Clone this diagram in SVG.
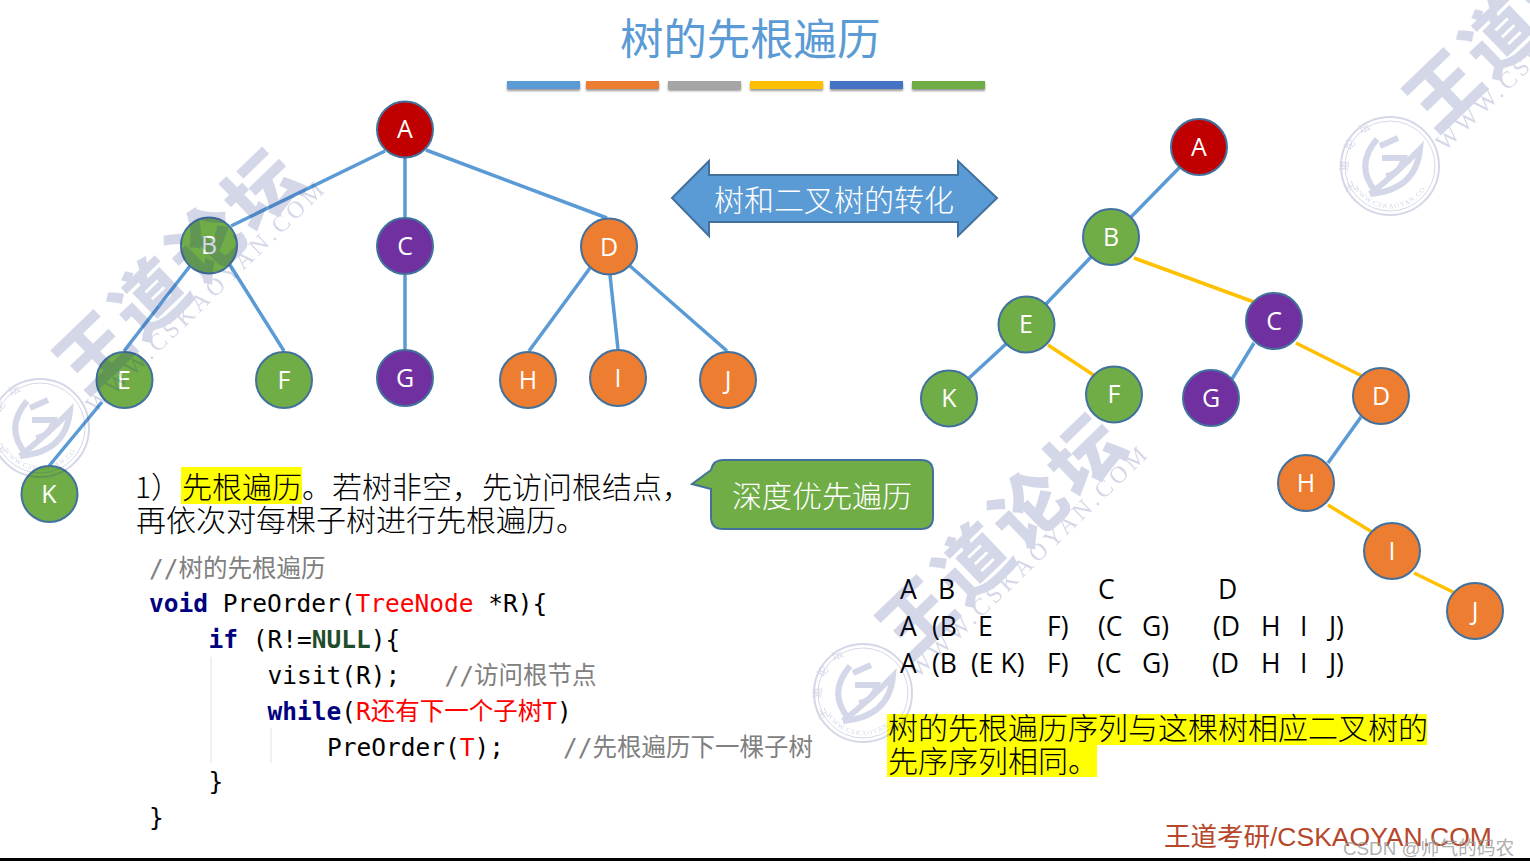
<svg xmlns="http://www.w3.org/2000/svg" width="1530" height="867" viewBox="0 0 1530 867">
<style>
.cjk{font-family:"Noto Sans CJK SC","Liberation Sans",sans-serif;font-weight:300}
.t30{font-size:30px;fill:#000}
.w30{font-size:30px;fill:#fff}
.n circle{stroke:#41719c;stroke-width:2}
.n text{font-family:"Open Sans","Noto Sans",sans-serif;font-size:25px;fill:#fff;text-anchor:middle}
.g circle{fill:#70ad47}.o circle{fill:#ed7d31}.p circle{fill:#7030a0}.r circle{fill:#c00000}
.bl{stroke:#5b9bd5;stroke-width:3.5;fill:none}
.go{stroke:#ffc000;stroke-width:3.5;fill:none}
.code{font-family:"DejaVu Sans Mono","Noto Sans CJK SC",monospace;font-size:24.5px;fill:#000;white-space:pre}
.kw{fill:#000080;font-weight:bold}.nu{fill:#1f4d2b;font-weight:bold}.re{fill:#f00}.cm{fill:#808080}
.sq{font-family:"Open Sans","Noto Sans",sans-serif;font-size:26.5px;fill:#000}
.wm{fill:#2c3a8c;stroke:none}
.wl{fill:none;stroke:#2c3a8c}
.wc{font-family:"Noto Sans CJK SC",sans-serif;font-weight:900;font-size:73px;letter-spacing:5px}
.ww{font-family:"Liberation Serif",serif;font-size:24px;letter-spacing:3.8px}
.st{font-family:"Liberation Serif",serif;font-size:7px;letter-spacing:1px}
.sc{font-family:"Noto Sans CJK SC",sans-serif;font-size:11px;letter-spacing:9px}
</style>
<defs>
<path id="sealTop" d="M-34,24A41,41 0 0 1 34,-24"/>
<path id="sealBot" d="M-36,22A42,42 0 0 0 36,22"/>
<filter id="sh" x="-5%" y="-50%" width="110%" height="220%"><feGaussianBlur stdDeviation="1"/></filter>
</defs>
<rect width="1530" height="867" fill="#fff"/>

<g id="title"><text x="620" y="55" font-family="'Noto Sans CJK SC',sans-serif" font-size="43.4" fill="#5b9bd5">树的先根遍历</text></g>
<g id="bars">
<rect x="507" y="83" width="73" height="8" fill="#999" filter="url(#sh)"/><rect x="586" y="83" width="73" height="8" fill="#999" filter="url(#sh)"/><rect x="668" y="83" width="73" height="8" fill="#999" filter="url(#sh)"/><rect x="750" y="83" width="73" height="8" fill="#999" filter="url(#sh)"/><rect x="830" y="83" width="73" height="8" fill="#999" filter="url(#sh)"/><rect x="912" y="83" width="73" height="8" fill="#999" filter="url(#sh)"/>
<rect x="507" y="81" width="73" height="8" fill="#5b9bd5"/><rect x="586" y="81" width="73" height="8" fill="#ed7d31"/><rect x="668" y="81" width="73" height="8" fill="#a5a5a5"/><rect x="750" y="81" width="73" height="8" fill="#ffc000"/><rect x="830" y="81" width="73" height="8" fill="#4472c4"/><rect x="912" y="81" width="73" height="8" fill="#70ad47"/>
</g>

<g id="connectors">
<line class="bl" x1="385" y1="151" x2="231" y2="226"/>
<line class="bl" x1="405" y1="158" x2="405" y2="218"/>
<line class="bl" x1="426" y1="150" x2="607" y2="218"/>
<line class="bl" x1="190" y1="266" x2="124" y2="351"/>
<line class="bl" x1="230" y1="265" x2="284" y2="351"/>
<line class="bl" x1="405" y1="275" x2="405" y2="349"/>
<line class="bl" x1="590" y1="268" x2="529" y2="351"/>
<line class="bl" x1="610" y1="275" x2="618" y2="349"/>
<line class="bl" x1="630" y1="266" x2="727" y2="351"/>
<line class="bl" x1="102" y1="402" x2="49" y2="466"/>
<line class="bl" x1="1180" y1="167" x2="1131" y2="217"/>
<line class="bl" x1="1091" y1="257" x2="1046" y2="304"/>
<line class="bl" x1="1006" y1="344" x2="969" y2="378"/>
<line class="go" x1="1134" y1="258" x2="1254" y2="302"/>
<line class="go" x1="1048" y1="345" x2="1095" y2="376"/>
<line class="bl" x1="1254" y1="343" x2="1232" y2="379"/>
<line class="go" x1="1296" y1="343" x2="1362" y2="376"/>
<line class="bl" x1="1361" y1="417" x2="1328" y2="463"/>
<line class="go" x1="1328" y1="505" x2="1372" y2="532"/>
<line class="go" x1="1414" y1="573" x2="1455" y2="593"/>
</g>

<g id="tree-a" class="n r"><circle cx="405" cy="129.500" r="28"/><text x="405" y="138">A</text></g>
<g id="tree-b" class="n g"><circle cx="209" cy="245.500" r="28"/><text x="209" y="254">B</text></g>
<g id="tree-c" class="n p"><circle cx="405" cy="246" r="28"/><text x="405" y="255">C</text></g>
<g id="tree-d" class="n o"><circle cx="609" cy="246.500" r="28"/><text x="609" y="256">D</text></g>
<g id="tree-e" class="n g"><circle cx="124.500" cy="380" r="28"/><text x="124" y="389">E</text></g>
<g id="tree-f" class="n g"><circle cx="284" cy="380" r="28"/><text x="284" y="389">F</text></g>
<g id="tree-g" class="n p"><circle cx="405" cy="378" r="28"/><text x="405" y="387">G</text></g>
<g id="tree-h" class="n o"><circle cx="528" cy="380" r="28"/><text x="528" y="389">H</text></g>
<g id="tree-i" class="n o"><circle cx="618" cy="378" r="28"/><text x="618" y="387">I</text></g>
<g id="tree-j" class="n o"><circle cx="728" cy="380" r="28"/><text x="728" y="389">J</text></g>
<g id="tree-k" class="n g"><circle cx="49.500" cy="494" r="28"/><text x="49" y="503">K</text></g>

<g id="bin-a" class="n r"><circle cx="1199" cy="147" r="28"/><text x="1199" y="156">A</text></g>
<g id="bin-b" class="n g"><circle cx="1111" cy="237" r="28"/><text x="1111" y="246">B</text></g>
<g id="bin-e" class="n g"><circle cx="1026.500" cy="324.500" r="28"/><text x="1026" y="333">E</text></g>
<g id="bin-c" class="n p"><circle cx="1274" cy="321" r="28"/><text x="1274" y="330">C</text></g>
<g id="bin-k" class="n g"><circle cx="949" cy="398.500" r="28"/><text x="949" y="407">K</text></g>
<g id="bin-f" class="n g"><circle cx="1114" cy="394.500" r="28"/><text x="1114" y="403">F</text></g>
<g id="bin-g" class="n p"><circle cx="1211" cy="398" r="28"/><text x="1211" y="407">G</text></g>
<g id="bin-d" class="n o"><circle cx="1381" cy="396" r="28"/><text x="1381" y="405">D</text></g>
<g id="bin-h" class="n o"><circle cx="1306" cy="483" r="28"/><text x="1306" y="492">H</text></g>
<g id="bin-i" class="n o"><circle cx="1392" cy="551" r="28"/><text x="1392" y="560">I</text></g>
<g id="bin-j" class="n o"><circle cx="1475" cy="611" r="28"/><text x="1475" y="620">J</text></g>

<g id="double-arrow">
<path d="M672,198L709,161V175H958V161L997,198L958,236V222H709V236Z" fill="#5b9bd5" stroke="#41719c" stroke-width="2"/>
<text class="cjk w30" x="714" y="211">树和二叉树的转化</text>
</g>

<g id="callout">
<path d="M723,460H921Q933,460 933,472V517Q933,529 921,529H723Q711,529 711,517V489L692,484L711,470Q713,460 723,460Z" fill="#70ad47" stroke="#41719c" stroke-width="2"/>
<text class="cjk w30" x="732" y="507">深度优先遍历</text>
</g>

<g id="description">
<rect x="181" y="467" width="121" height="37" fill="#ff0"/>
<text class="cjk t30" x="135" y="498">1</text>
<text class="cjk t30" x="151" y="498">）</text>
<text class="cjk t30" x="182" y="498">先根遍历。若树非空，先访问根结点，</text>
<text class="cjk t30" x="136" y="531">再依次对每棵子树进行先根遍历。</text>
</g>

<g id="code">
<line x1="211" y1="657" x2="211" y2="763" stroke="#e2e2e2" stroke-width="1"/>
<line x1="271" y1="728" x2="271" y2="763" stroke="#e2e2e2" stroke-width="1"/>
<text class="code cm" x="149" y="577">//树的先根遍历</text>
<text class="code" x="149" y="612"><tspan class="kw">void</tspan> PreOrder(<tspan class="re">TreeNode</tspan> *R){</text>
<text class="code" x="208.500" y="648"><tspan class="kw">if</tspan> (R!=<tspan class="nu">NULL</tspan>){</text>
<text class="code" x="267.500" y="684">visit(R);   <tspan class="cm">//访问根节点</tspan></text>
<text class="code" x="267.500" y="720"><tspan class="kw">while</tspan>(<tspan class="re">R还有下一个子树T</tspan>)</text>
<text class="code" x="327" y="756">PreOrder(<tspan class="re">T</tspan>);    <tspan class="cm">//先根遍历下一棵子树</tspan></text>
<text class="code" x="208.500" y="790">}</text>
<text class="code" x="149" y="826">}</text>
</g>

<g id="sequences" class="sq">
<text x="900" y="599">A</text><text x="938" y="599">B</text><text x="1098" y="599">C</text><text x="1218" y="599">D</text>
<text x="900" y="636">A</text><text x="932" y="636">(B</text><text x="978" y="636">E</text><text x="1047" y="636">F)</text><text x="1098" y="636">(C</text><text x="1142" y="636">G)</text><text x="1213" y="636">(D</text><text x="1261" y="636">H</text><text x="1300" y="636">I</text><text x="1329" y="636">J)</text>
<text x="900" y="673">A</text><text x="932" y="673">(B</text><text x="971" y="673">(E K)</text><text x="1047" y="673">F)</text><text x="1097" y="673">(C</text><text x="1142" y="673">G)</text><text x="1212" y="673">(D</text><text x="1261" y="673">H</text><text x="1300" y="673">I</text><text x="1329" y="673">J)</text>
</g>

<g id="conclusion">
<rect x="887" y="714" width="540" height="31" fill="#ff0"/>
<rect x="887" y="745" width="210" height="32" fill="#ff0"/>
<text class="cjk t30" x="888" y="739">树的先根遍历序列与这棵树相应二叉树的</text>
<text class="cjk t30" x="888" y="772">先序序列相同。</text>
</g>

<g id="footer">
<rect x="0" y="858" width="1530" height="3" fill="#000"/>
<text x="1164" y="846" font-family="'Liberation Sans','Noto Sans CJK SC',sans-serif" font-size="26.500" fill="#b7472a">王道考研/CSKAOYAN.COM</text>
<text x="1343" y="855" font-family="'Liberation Sans','Noto Sans CJK SC',sans-serif" font-size="18.800" fill="#999" fill-opacity=".8">CSDN @帅气的码农</text>
</g>

<g id="watermarks" opacity=".2">
<g transform="translate(40,428)">
<text class="wm wc" transform="translate(46,-31) rotate(-44)">王道论坛</text>
<text class="wm ww" transform="translate(55,-14) rotate(-44)">WWW.CSKAOYAN.COM</text>
<circle class="wl" r="49" stroke-width="2"/><circle class="wl" r="45" stroke-width="1"/>
<path class="wl" stroke-width="6" d="M-14,26Q-36,0 -13,-27"/>
<path class="wl" stroke-width="6" d="M-20,28Q8,6 30,-17Q26,24 -20,28"/>
<path class="wl" stroke-width="6" d="M-10,-20L8,-28M-8,-8H14Q10,8 -4,10"/>
<text class="wm sc"><textPath href="#sealTop">王道论坛</textPath></text>
<text class="wm st"><textPath href="#sealBot">WWW.CSKAOYAN.COM</textPath></text>
</g>
<g transform="translate(863,693)">
<text class="wm wc" transform="translate(46,-31) rotate(-44)">王道论坛</text>
<text class="wm ww" transform="translate(55,-14) rotate(-44)">WWW.CSKAOYAN.COM</text>
<circle class="wl" r="49" stroke-width="2"/><circle class="wl" r="45" stroke-width="1"/>
<path class="wl" stroke-width="6" d="M-14,26Q-36,0 -13,-27"/>
<path class="wl" stroke-width="6" d="M-20,28Q8,6 30,-17Q26,24 -20,28"/>
<path class="wl" stroke-width="6" d="M-10,-20L8,-28M-8,-8H14Q10,8 -4,10"/>
<text class="wm sc"><textPath href="#sealTop">王道论坛</textPath></text>
<text class="wm st"><textPath href="#sealBot">WWW.CSKAOYAN.COM</textPath></text>
</g>
<g transform="translate(1390,166)">
<text class="wm wc" transform="translate(46,-31) rotate(-44)">王道论坛</text>
<text class="wm ww" transform="translate(55,-14) rotate(-44)">WWW.CSKAOYAN.COM</text>
<circle class="wl" r="49" stroke-width="2"/><circle class="wl" r="45" stroke-width="1"/>
<path class="wl" stroke-width="6" d="M-14,26Q-36,0 -13,-27"/>
<path class="wl" stroke-width="6" d="M-20,28Q8,6 30,-17Q26,24 -20,28"/>
<path class="wl" stroke-width="6" d="M-10,-20L8,-28M-8,-8H14Q10,8 -4,10"/>
<text class="wm sc"><textPath href="#sealTop">王道论坛</textPath></text>
<text class="wm st"><textPath href="#sealBot">WWW.CSKAOYAN.COM</textPath></text>
</g>
</g>
</svg>
